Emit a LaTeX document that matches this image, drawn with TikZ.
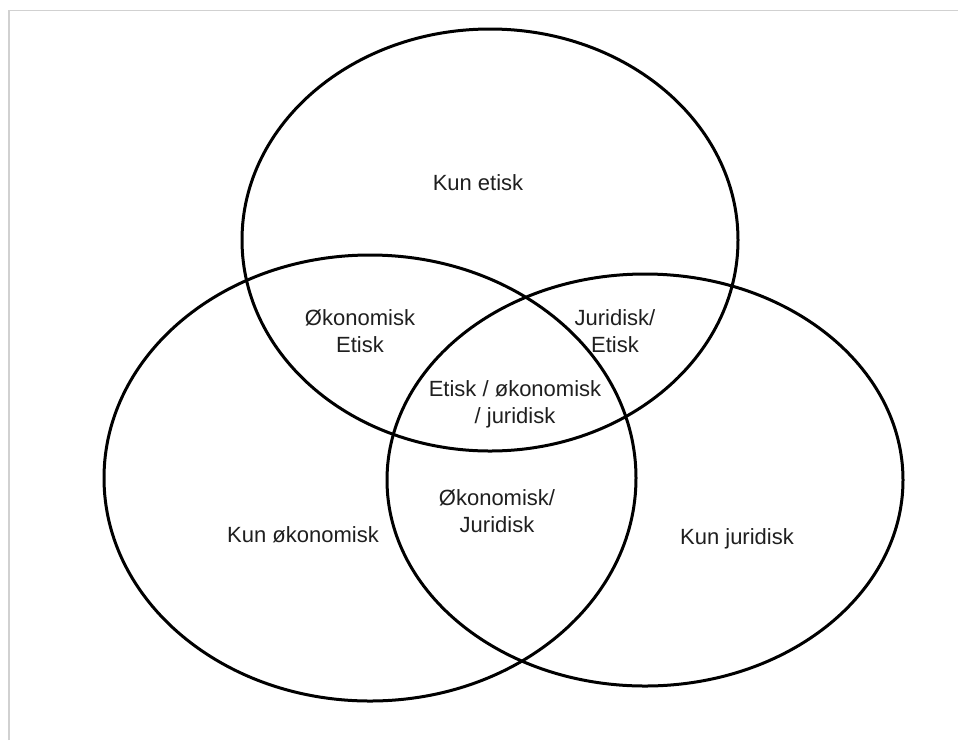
\documentclass[tikz,border=0pt]{standalone}
\usepackage{fontspec}
\setmainfont{Liberation Sans}
\begin{document}
\begin{tikzpicture}[x=1pt,y=-1pt,
  ring/.style={draw=black,line width=3pt},
  lbl/.style={align=center,text=black!88,inner sep=0pt,font=\fontsize{22}{27}\selectfont}]
\useasboundingbox (0,0) rectangle (958,740);
\fill[white] (0,0) rectangle (958,740);
\draw[black!18,line width=1.5pt] (9,740) -- (9,10.5) -- (958,10.5);
\draw[ring] (490,240) ellipse [x radius=248pt, y radius=211pt];
\draw[ring] (370,478) ellipse [x radius=266pt, y radius=223pt];
\draw[ring] (645,480) ellipse [x radius=258pt, y radius=206pt];
\node[lbl] (ke) at (478,183) {Kun etisk};
\node[lbl] (oe) at (360,331) {Økonomisk\\Etisk};
\node[lbl] (je) at (615,331) {Juridisk/\\Etisk};
\node[lbl] (all) at (515,404) {Etisk / økonomisk\\/ juridisk};
\node[lbl] (oj) at (497,511) {Økonomisk/\\Juridisk};
\node[lbl] (ko) at (303,535) {Kun økonomisk};
\node[lbl] (kj) at (737,539) {Kun juridisk};
\end{tikzpicture}
\end{document}
